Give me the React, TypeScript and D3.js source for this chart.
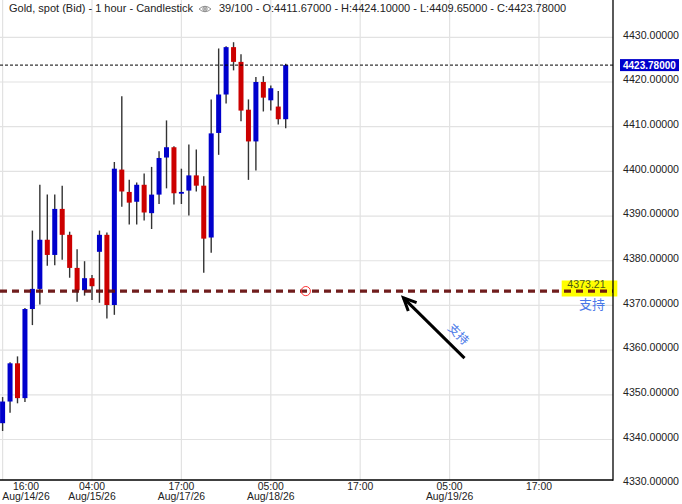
import React from 'react';
import * as d3 from 'd3';

// ---- data (1-hour candles, index = trading hour) ----
const opens = [4343.65, 4348.5, 4357.05, 4349.26, 4369.2, 4373.7, 4384.7, 4381.3, 4391.6, 4385.8, 4378.4, 4373.4, 4376.1,
  4382.0, 4385.8, 4370.1, 4400.4, 4395.4, 4393.2, 4397.0, 4390.65, 4394.8, 4403.1, 4405.4, 4395.0, 4395.7,
  4399.1, 4396.8, 4385.2, 4408.6, 4417.2, 4427.8, 4424.5, 4413.8, 4406.7, 4420.0, 4415.9, 4414.5, 4411.67];
const highs = [4349.5, 4357.3, 4358.6, 4369.4, 4386.75, 4397.0, 4394.8, 4394.8, 4396.8, 4386.5, 4382.6, 4379.9, 4376.8,
  4386.75, 4386.3, 4402.1, 4416.8, 4398.1, 4397.5, 4399.5, 4401.0, 4404.5, 4411.4, 4405.6, 4400.6, 4406.0,
  4404.9, 4398.9, 4416.1, 4427.5, 4428.0, 4428.9, 4426.2, 4416.1, 4421.1, 4421.3, 4419.2, 4418.0, 4424.1];
const lows = [4341.9, 4346.0, 4348.1, 4348.4, 4365.6, 4370.2, 4378.9, 4379.0, 4380.2, 4376.2, 4370.8, 4372.2, 4371.2,
  4370.6, 4367.1, 4367.9, 4392.1, 4388.1, 4388.1, 4389.0, 4387.1, 4392.7, 4396.2, 4392.6, 4392.7, 4390.1,
  4395.5, 4377.3, 4381.8, 4403.7, 4415.2, 4422.6, 4411.2, 4398.1, 4400.2, 4413.4, 4413.6, 4410.5, 4409.65];
const closes = [4348.5, 4357.05, 4349.26, 4369.2, 4373.7, 4384.7, 4381.3, 4391.6, 4385.8, 4378.4, 4373.4, 4376.1, 4374.3,
  4385.8, 4370.1, 4400.6, 4395.5, 4393.0, 4397.0, 4390.8, 4394.8, 4403.0, 4405.4, 4395.1, 4395.4, 4399.1,
  4396.8, 4384.95, 4408.5, 4417.2, 4427.8, 4424.5, 4413.6, 4406.7, 4420.0, 4416.5, 4418.6, 4411.67, 4423.78];

const xTickIdx = [0, 12, 24, 36, 48, 60, 72];
const xTickTime = ['16:00', '04:00', '17:00', '05:00', '17:00', '05:00', '17:00'];
const xTickDate = ['Aug/14/26', 'Aug/15/26', 'Aug/17/26', 'Aug/18/26', '', 'Aug/19/26', ''];
const yTicks = [4330, 4340, 4350, 4360, 4370, 4380, 4390, 4400, 4410, 4420, 4430];

const lastPrice = 4423.78;
const supportPrice = 4373.21;
const supportLabel = '支持';
const markerIdx = 40.7;
const arrowTip = [53.8, 4371.7];
const arrowTail = [62.0, 4358.2];
const arrowTextPos = [61.1, 4363.4];

const titleLeft = 'Gold, spot (Bid) - 1 hour - Candlestick';
const titleRight = '39/100 - O:4411.67000 - H:4424.10000 - L:4409.65000 - C:4423.78000';

const W = 682;
const H = 504;
const plotRight = 613;
const plotBottom = 480;
const FONT = '"Liberation Sans", Arial, sans-serif';
const UP = '#0000cc';
const DOWN = '#cc0000';

export default function App() {
  const x = d3.scaleLinear().domain([0, 72]).range([2.6, 539]);
  const y = d3.scaleLinear().domain([4330, 4430]).range([484.2, 37.3]);
  const fmt = d3.format('.5f');
  const candles = opens.map((o, i) => ({ i, o, h: highs[i], l: lows[i], c: closes[i] }));
  const bw = 5;

  const tipX = x(arrowTip[0]);
  const tipY = y(arrowTip[1]);
  const tailX = x(arrowTail[0]);
  const tailY = y(arrowTail[1]);
  const ang = Math.atan2(tailY - tipY, tailX - tipX);
  const hl = 14;
  const spread = (25 * Math.PI) / 180;
  const h1 = [tipX + hl * Math.cos(ang - spread), tipY + hl * Math.sin(ang - spread)];
  const h2 = [tipX + hl * Math.cos(ang + spread), tipY + hl * Math.sin(ang + spread)];

  const supY = y(supportPrice);
  const lastY = y(lastPrice);

  return (
    <svg width={W} height={H} style={{ position: 'absolute', left: 0, top: 0, background: '#fff' }} fontFamily={FONT}>
      <rect x={0} y={0} width={W} height={H} fill="#fff" />
      {/* grid */}
      {xTickIdx.map((t) => (
        <line key={'vg' + t} x1={x(t)} x2={x(t)} y1={0} y2={plotBottom} stroke="#e2e2e2" strokeWidth={1.2} />
      ))}
      {yTicks.filter((v) => y(v) < plotBottom).map((v) => (
        <line key={'hg' + v} x1={0} x2={plotRight} y1={y(v)} y2={y(v)} stroke="#e2e2e2" strokeWidth={1.2} />
      ))}

      {/* title */}
      <text x={9} y={12} fontSize={11} fill="#222">{titleLeft}</text>
      <g stroke="#777" fill="none" strokeWidth={0.8}>
        <path d="M199,9 Q205,3.5 211,9 Q205,14.5 199,9 Z" />
        <circle cx={205} cy={9} r={2.2} />
        <circle cx={205} cy={9} r={1} />
      </g>
      <text x={219} y={12} fontSize={11} fill="#222">{titleRight}</text>

      {/* candles */}
      {candles.map((d) => {
        const up = d.c >= d.o;
        const top = y(Math.max(d.o, d.c));
        const bot = y(Math.min(d.o, d.c));
        return (
          <g key={d.i}>
            <line x1={x(d.i)} x2={x(d.i)} y1={y(d.h)} y2={y(d.l)} stroke="#333" strokeWidth={1.4} />
            <rect x={x(d.i) - bw / 2} y={top} width={bw} height={Math.max(1.5, bot - top)} fill={up ? UP : DOWN} />
          </g>
        );
      })}

      {/* last price line */}
      <line x1={0} x2={plotRight} y1={lastY} y2={lastY} stroke="#000" strokeWidth={1} strokeDasharray="3,2" />

      {/* support label background */}
      <rect x={561.7} y={supY - 10.6} width={55.6} height={16} fill="#ffff00" />
      <text x={586.5} y={supY - 2.6} fontSize={10.6} fill="#4a5a18" textAnchor="middle">{supportPrice.toFixed(2)}</text>

      {/* support line */}
      <line x1={0} x2={plotRight} y1={supY} y2={supY} stroke="#650c0c" strokeOpacity={0.93} strokeWidth={3.2} strokeDasharray="7,5" />
      <text x={592} y={supY + 17.5} fontSize={13} fill="#4a78e8" textAnchor="middle" fontFamily='"Noto Sans CJK SC", sans-serif'>{supportLabel}</text>

      {/* marker circle */}
      <circle cx={x(markerIdx)} cy={supY} r={4.6} fill="none" stroke="#ff3333" strokeWidth={1} />

      {/* arrow */}
      <line x1={tailX} y1={tailY} x2={tipX} y2={tipY} stroke="#000" strokeWidth={3} />
      <path d={`M${h1[0]},${h1[1]} L${tipX},${tipY} L${h2[0]},${h2[1]}`} fill="none" stroke="#000" strokeWidth={3} strokeLinejoin="miter" />
      <text
        x={x(arrowTextPos[0])}
        y={y(arrowTextPos[1])}
        fontSize={12}
        fill="#4a78e8"
        textAnchor="middle"
        dominantBaseline="middle"
        fontFamily='"Noto Sans CJK SC", sans-serif'
        transform={`rotate(45 ${x(arrowTextPos[0])} ${y(arrowTextPos[1])})`}
      >
        {supportLabel}
      </text>

      {/* axes borders */}
      <line x1={plotRight} x2={plotRight} y1={0} y2={plotBottom + 0.75} stroke="#000" strokeWidth={1.3} />
      <line x1={0} x2={plotRight} y1={plotBottom} y2={plotBottom} stroke="#000" strokeWidth={1.5} />

      {/* y labels */}
      {yTicks.map((v) => (
        <text key={'yl' + v} x={623} y={y(v) - 1.5} fontSize={10.6} fill="#222" dominantBaseline="middle">{fmt(v)}</text>
      ))}
      {/* last price tag */}
      <rect x={620} y={lastY - 6} width={59} height={12} fill={UP} />
      <text x={623} y={lastY + 3.6} fontSize={10} fontWeight="bold" fill="#fff">{fmt(lastPrice)}</text>

      {/* x labels */}
      {xTickIdx.map((t, k) => {
        const cx = Math.max(x(t), 26);
        return (
          <g key={'xl' + t}>
            <text x={cx} y={489.5} fontSize={10.4} fill="#222" textAnchor="middle">{xTickTime[k]}</text>
            {xTickDate[k] && (
              <text x={cx} y={500} fontSize={10.4} fill="#222" textAnchor="middle">{xTickDate[k]}</text>
            )}
          </g>
        );
      })}
    </svg>
  );
}
